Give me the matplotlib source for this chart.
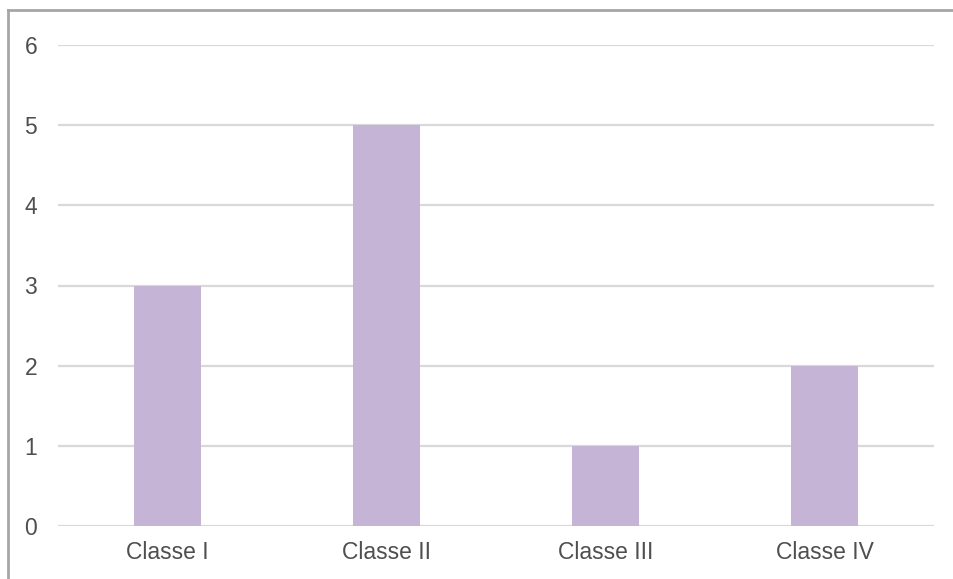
import matplotlib
matplotlib.use("Agg")
import matplotlib.pyplot as plt
from matplotlib.lines import Line2D

categories = ["Classe I", "Classe II", "Classe III", "Classe IV"]
values = [3, 5, 1, 2]
y_ticks = [0, 1, 2, 3, 4, 5, 6]

W, H = 954, 579
fig = plt.figure(figsize=(W / 100, H / 100), dpi=100)
fig.patch.set_facecolor("white")

ax = fig.add_axes([58 / W, (H - 526) / H, (934 - 58) / W, (526 - 45) / H])
x = range(len(categories))
ax.bar(x, values, width=0.306, color="#C5B4D5", zorder=3)

ax.set_xlim(-0.5, len(categories) - 0.5)
ax.set_ylim(0, 6)
ax.set_yticks(y_ticks)
ax.set_xticks(list(x))
ax.set_xticklabels(categories)

for s in ax.spines.values():
    s.set_visible(False)
ax.grid(axis="y", color="#D9D9D9", linewidth=1.6, zorder=0)
ax.set_axisbelow(True)
ax.tick_params(axis="both", length=0, labelsize=16.5, labelcolor="#4F4F4F")
ax.tick_params(axis="y", pad=15)
ax.tick_params(axis="x", pad=11)
for lab in ax.get_xticklabels() + ax.get_yticklabels():
    lab.set_fontfamily("Liberation Sans")

# outer frame lines along the top and left edges
fig.add_artist(Line2D([8 / W, 1], [1 - 10 / H, 1 - 10 / H], transform=fig.transFigure,
                      color="#A6A6A6", linewidth=2))
fig.add_artist(Line2D([8 / W, 8 / W], [0, 1 - 10 / H], transform=fig.transFigure,
                      color="#A6A6A6", linewidth=2))

fig.savefig("out.png", dpi=100)
